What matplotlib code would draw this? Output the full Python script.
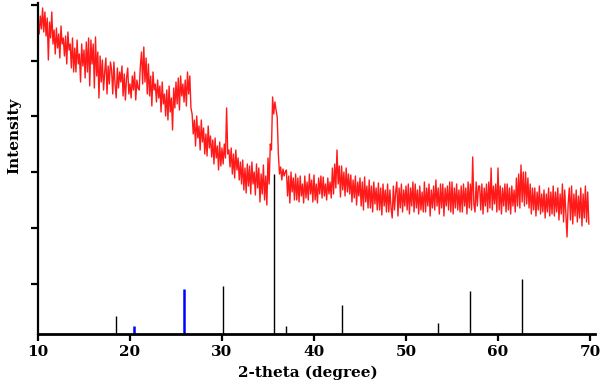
import numpy as np
import matplotlib
matplotlib.use("Agg")
import matplotlib.pyplot as plt

# ----------------------------
# Data
# ----------------------------
TWO_THETA_START = 10.0
TWO_THETA_STEP = 0.125

# measured pattern, 8 points per degree from 10 to 69.875
intensity_rows = [
    [310, 300, 318, 305, 326, 302, 322, 298],  # 10
    [316, 274, 312, 296, 322, 290, 304, 280],  # 11
    [306, 286, 300, 276, 308, 290, 296, 278],  # 12
    [298, 270, 302, 284, 290, 266, 296, 262],  # 13
    [286, 262, 294, 270, 280, 252, 290, 268],  # 14
    [284, 256, 292, 262, 296, 248, 294, 270],  # 15
    [290, 246, 297, 258, 282, 236, 278, 252],  # 16
    [274, 244, 262, 276, 240, 268, 250, 272],  # 17
    [264, 240, 272, 250, 236, 266, 246, 262],  # 18
    [252, 268, 238, 260, 234, 256, 266, 240],  # 19
    [250, 236, 258, 244, 262, 234, 254, 246],  # 20
    [244, 268, 282, 250, 287, 252, 276, 240],  # 21
    [270, 238, 258, 228, 262, 244, 250, 232],  # 22
    [254, 236, 248, 222, 252, 230, 240, 218],  # 23
    [244, 214, 248, 222, 236, 204, 246, 226],  # 24
    [252, 230, 256, 224, 258, 238, 250, 232],  # 25
    [254, 228, 262, 240, 258, 226, 220, 200],  # 26
    [214, 188, 218, 196, 208, 184, 214, 192],  # 27
    [206, 180, 200, 178, 208, 186, 198, 177],  # 28
    [194, 170, 196, 176, 188, 164, 192, 168],  # 29
    [186, 170, 190, 176, 226, 180, 184, 167],  # 30
    [186, 160, 180, 156, 184, 164, 176, 154],  # 31
    [172, 150, 174, 144, 166, 141, 170, 148],  # 32
    [168, 140, 172, 150, 162, 139, 170, 146],  # 33
    [166, 132, 160, 140, 169, 134, 158, 129],  # 34
    [176, 150, 190, 184, 237, 220, 232, 224],  # 35
    [217, 180, 160, 167, 154, 165, 158, 162],  # 36
    [164, 138, 158, 131, 162, 142, 156, 134],  # 37
    [160, 134, 156, 132, 158, 138, 150, 131],  # 38
    [158, 136, 152, 134, 160, 140, 154, 132],  # 39
    [159, 134, 150, 131, 156, 140, 158, 136],  # 40
    [157, 138, 150, 134, 156, 140, 152, 136],  # 41
    [166, 140, 170, 146, 184, 150, 168, 137],  # 42
    [168, 144, 162, 138, 166, 142, 160, 140],  # 43
    [159, 132, 154, 136, 158, 129, 152, 138],  # 44
    [156, 128, 152, 124, 157, 132, 148, 126],  # 45
    [154, 126, 148, 122, 152, 130, 146, 124],  # 46
    [151, 124, 146, 119, 150, 128, 144, 122],  # 47
    [150, 122, 144, 126, 116, 148, 124, 142],  # 48
    [152, 118, 146, 126, 150, 122, 144, 128],  # 49
    [148, 124, 150, 120, 146, 128, 152, 122],  # 50
    [150, 126, 144, 120, 148, 124, 142, 122],  # 51
    [152, 122, 146, 128, 150, 118, 144, 126],  # 52
    [148, 124, 154, 128, 146, 120, 150, 126],  # 53
    [150, 118, 146, 128, 148, 124, 152, 122],  # 54
    [152, 120, 146, 126, 150, 124, 144, 122],  # 55
    [148, 122, 150, 128, 146, 120, 152, 126],  # 56
    [150, 124, 177, 130, 122, 152, 128, 148],  # 57
    [148, 124, 150, 120, 146, 128, 150, 122],  # 58
    [152, 126, 166, 124, 148, 130, 150, 122],  # 59
    [166, 124, 148, 120, 146, 128, 150, 122],  # 60
    [150, 124, 146, 120, 148, 128, 144, 122],  # 61
    [156, 128, 160, 126, 169, 132, 162, 128],  # 62
    [162, 130, 156, 126, 150, 120, 146, 124],  # 63
    [146, 118, 142, 124, 148, 120, 140, 122],  # 64
    [144, 116, 140, 122, 146, 118, 142, 120],  # 65
    [148, 118, 142, 122, 146, 114, 140, 120],  # 66
    [150, 112, 144, 120, 97, 130, 146, 114],   # 67
    [148, 110, 140, 118, 144, 112, 138, 116],  # 68
    [146, 108, 140, 116, 148, 112, 142, 110],  # 69
]

# reference sticks
black_pos = [18.5, 30.1, 35.6, 37.0, 43.0, 53.5, 57.0, 62.6]
black_height = [18, 48, 160, 8, 29, 11, 43, 55]
blue_pos = [20.4, 25.9]
blue_height = [8, 45]

x_ticks = [10, 20, 30, 40, 50, 60, 70]
y_ticks = [50, 106, 162, 218, 273, 329]

intensity = np.array([v for row in intensity_rows for v in row], dtype=float)
two_theta = TWO_THETA_START + TWO_THETA_STEP * np.arange(len(intensity))

# ----------------------------
# Plot
# ----------------------------
fig = plt.figure(figsize=(6.0, 3.84), dpi=100)
ax = fig.add_axes([38 / 600, 50 / 384, 556.6 / 600, 331 / 384])

ax.vlines(black_pos, 0, black_height, color="black", linewidth=1.0, zorder=1)
ax.vlines(blue_pos, 0, blue_height, color="#0000ff", linewidth=1.8, zorder=1)
ax.plot(two_theta, intensity, color="#ff1a1a", linewidth=1.0, zorder=2)

ax.set_xlim(10, 70.5)
ax.set_ylim(0, 331)
ax.set_xticks(x_ticks)
ax.set_yticks(y_ticks)
ax.set_yticklabels([])

for side in ["top", "right"]:
    ax.spines[side].set_visible(False)
ax.spines["left"].set_linewidth(1.6)
ax.spines["bottom"].set_linewidth(2.0)
ax.tick_params(axis="both", direction="out", length=5, width=1.6)
ax.tick_params(axis="x", labelsize=11, pad=3)
for lbl in ax.get_xticklabels():
    lbl.set_fontfamily("DejaVu Serif")
    lbl.set_fontweight("bold")

ax.set_xlabel("2-theta (degree)", fontsize=11, fontweight="bold", family="DejaVu Serif")
ax.set_ylabel("Intensity", fontsize=11, fontweight="bold", family="DejaVu Serif")
ax.xaxis.set_label_coords(0.485, -0.095)
ax.yaxis.set_label_coords(-0.030, 0.598)

fig.savefig("out.png", dpi=100)
